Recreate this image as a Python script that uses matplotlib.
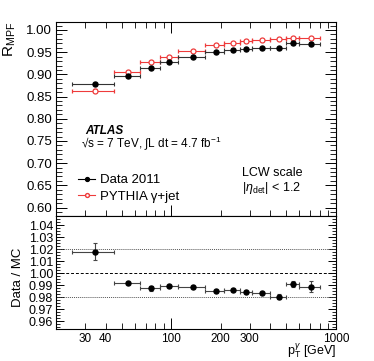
import matplotlib
matplotlib.use("Agg")
import matplotlib.pyplot as plt
import numpy as np
from matplotlib.ticker import FixedLocator, FixedFormatter, MultipleLocator, NullFormatter
from matplotlib.lines import Line2D

plt.rcParams['font.family'] = ['Liberation Sans', 'DejaVu Sans']
plt.rcParams['mathtext.fontset'] = 'custom'
plt.rcParams['mathtext.rm'] = 'Liberation Sans'
plt.rcParams['mathtext.it'] = 'Liberation Sans:italic'
plt.rcParams['mathtext.bf'] = 'Liberation Sans:bold'

# Bins in photon pT [GeV]
bin_lo = [25, 45, 65, 85, 110, 160, 210, 260, 310, 400, 500, 600]
bin_hi = [45, 65, 85, 110, 160, 210, 260, 310, 400, 500, 600, 800]
bin_center = [34.5, 54.5, 75, 97.5, 135, 186, 236, 286, 356, 452, 552, 710]

data_r = [0.878, 0.897, 0.915, 0.928, 0.940, 0.950, 0.956, 0.958, 0.960, 0.959, 0.971, 0.969]
data_err = [0.003, 0.001, 0.001, 0.001, 0.001, 0.001, 0.001, 0.001, 0.001, 0.002, 0.002, 0.003]
mc_r = [0.863, 0.905, 0.928, 0.939, 0.952, 0.966, 0.970, 0.975, 0.978, 0.979, 0.981, 0.981]
mc_err = [0.003, 0.001, 0.001, 0.001, 0.001, 0.001, 0.001, 0.001, 0.001, 0.001, 0.001, 0.002]

ratio = [1.0179, 0.9916, 0.9874, 0.9890, 0.9882, 0.9849, 0.9862, 0.9843, 0.9834, 0.9802, 0.9910, 0.9885]
ratio_err = [0.007, 0.0005, 0.0020, 0.0008, 0.0008, 0.0008, 0.0008, 0.0008, 0.0008, 0.0020, 0.0025, 0.0045]

xtick_vals = [30, 40, 100, 200, 300, 1000]
xtick_labels = ['30', '40', '100', '200', '300', '1000']

W, H = 374, 361
fig = plt.figure(figsize=(W / 100, H / 100), dpi=100)
left, right = 56 / W, 336 / W
ax1 = fig.add_axes([left, 1 - 216 / H, right - left, (216 - 22) / H])
ax2 = fig.add_axes([left, 1 - 329.3 / H, right - left, (329.3 - 216) / H])

x = np.array(bin_center)
xerr = [x - np.array(bin_lo), np.array(bin_hi) - x]

red = '#ee3b3b'
ax1.errorbar(x, mc_r, xerr=xerr, yerr=mc_err, fmt='o', mfc='white', mec=red, color=red,
             ms=3.6, mew=0.9, lw=0.8, capsize=1.5, capthick=0.8, zorder=3)
ax1.errorbar(x, data_r, xerr=xerr, yerr=data_err, fmt='o', color='black', ms=3.6, lw=0.8,
             ecolor='#333333', capsize=1.5, capthick=0.8, zorder=4)

ax2.axhline(1.0, color='black', ls=(0, (3, 2)), lw=0.7)
ax2.axhline(1.02, color='#555555', ls=(0, (1, 1)), lw=0.7)
ax2.axhline(0.98, color='#555555', ls=(0, (1, 1)), lw=0.7)
ax2.errorbar(x, ratio, xerr=xerr, yerr=ratio_err, fmt='o', color='black', ms=3.6, lw=0.8,
             ecolor='#444444', capsize=1.5, capthick=0.8, zorder=4)

for ax in (ax1, ax2):
    ax.set_xscale('log')
    ax.set_xlim(20, 1000)
    ax.tick_params(which='both', direction='in', top=True, right=True, labelsize=8.5, pad=3)
    ax.tick_params(which='major', length=8, width=0.7)
    ax.tick_params(which='minor', length=4, width=0.6)
    ax.xaxis.set_major_locator(FixedLocator([100, 1000]))
    ax.xaxis.set_minor_locator(FixedLocator([20, 30, 40, 50, 60, 70, 80, 90,
                                             200, 300, 400, 500, 600, 700, 800, 900]))
    for s in ax.spines.values():
        s.set_linewidth(0.8)

ax1.set_ylim(0.581, 1.018)
ax1.yaxis.set_major_locator(MultipleLocator(0.05))
ax1.yaxis.set_minor_locator(MultipleLocator(0.01))
ax1.yaxis.set_major_formatter(matplotlib.ticker.FormatStrFormatter('%.2f'))
ax1.tick_params(axis='x', which='both', labelbottom=False)
ax1.tick_params(axis='y', labelsize=9.5)
ax1.xaxis.set_major_formatter(NullFormatter())
ax1.xaxis.set_minor_formatter(NullFormatter())

ax2.set_ylim(0.9531, 1.0475)
ax2.yaxis.set_major_locator(MultipleLocator(0.01))
ax2.yaxis.set_minor_locator(MultipleLocator(0.0025))
ax2.yaxis.set_major_formatter(matplotlib.ticker.FormatStrFormatter('%.2f'))
ax2.tick_params(axis='y', labelsize=9, pad=2)
ax2.tick_params(axis='y', which='major', length=6)
ax2.tick_params(axis='y', which='minor', length=3)
ax2.tick_params(axis='x', which='both', top=False, labelsize=8.5, pad=2.5)
ax2.xaxis.set_major_formatter(FixedFormatter(['100', '1000']))
ax2.xaxis.set_minor_formatter(matplotlib.ticker.FuncFormatter(
    lambda v, p: ('%d' % round(v)) if round(v) in xtick_vals else ''))

fig.text(10 / W, 1 - 22 / H, r'R$_{\mathrm{MPF}}$', rotation=90, ha='center', va='top', fontsize=11)
fig.text(18 / W, 1 - 277 / H, 'Data / MC', rotation=90, ha='center', va='center', fontsize=9.5)
fig.text(336 / W, 1 - 351.5 / H, r'p$_{\mathrm{T}}^{\gamma}$ [GeV]', ha='right', va='center', fontsize=9)

fig.text(85 / W, 1 - 131.5 / H, 'ATLAS', fontsize=8.5, fontweight='bold', fontstyle='italic', va='center')
fig.text(81 / W, 1 - 143.5 / H, '√s = 7 TeV, ∫L dt = 4.7 fb$^{-1}$',
         fontsize=8.5, va='center')
fig.text(241.5 / W, 1 - 173.5 / H, 'LCW scale', fontsize=9, va='center')
fig.text(242.5 / W, 1 - 188.5 / H, r'|$\eta_{\mathrm{det}}$| < 1.2', fontsize=9, va='center')

h_data = Line2D([], [], color='black', marker='o', ms=2.8, lw=0.8)
h_mc = Line2D([], [], color=red, marker='o', ms=2.8, mfc='white', mec=red, lw=0.8)
leg = fig.legend([h_data, h_mc], ['Data 2011', 'PYTHIA γ+jet'], loc='upper left',
                 bbox_to_anchor=(78 / W, 1 - 174 / H),
                 frameon=False, fontsize=9.5,
                 handlelength=1.3, handletextpad=0.4, labelspacing=0.35, borderaxespad=0, borderpad=0)

fig.savefig('out.png', dpi=100)
